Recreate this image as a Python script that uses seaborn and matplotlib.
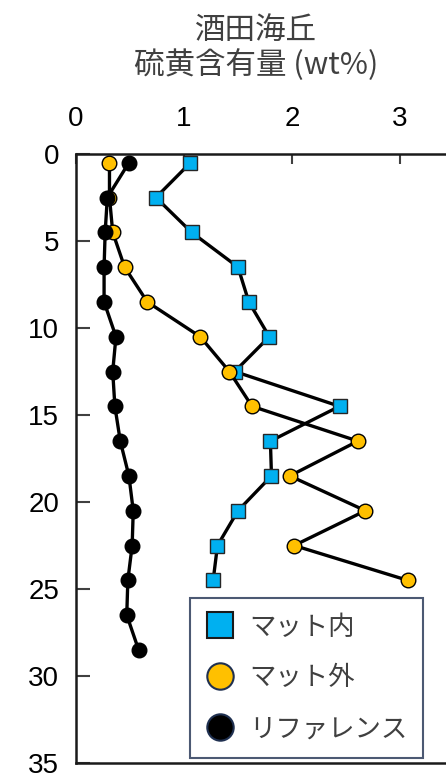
import numpy as np
import pandas as pd
import matplotlib
matplotlib.use("Agg")
import matplotlib.pyplot as plt
from matplotlib.lines import Line2D
import seaborn as sns

# --- data ---
depth = [0.5, 2.5, 4.5, 6.5, 8.5, 10.5, 12.5, 14.5, 16.5, 18.5, 20.5, 22.5, 24.5, 26.5, 28.5]
mat_in = [1.06, 0.74, 1.07, 1.50, 1.60, 1.79, 1.47, 2.44, 1.80, 1.81, 1.50, 1.31, 1.27]
mat_out = [0.31, 0.31, 0.34, 0.45, 0.66, 1.15, 1.42, 1.63, 2.61, 1.98, 2.68, 2.02, 3.07]
reference = [0.49, 0.29, 0.27, 0.26, 0.26, 0.37, 0.34, 0.36, 0.41, 0.49, 0.53, 0.52, 0.48, 0.47, 0.58]

labels = ["マット内", "マット外", "リファレンス"]
colors = ["#00b0f0", "#ffc000", "#000000"]
markers = ["s", "o", "o"]
edges = ["#262626", "#000000", "#000000"]

sns.set_style("white")
plt.rcParams["font.family"] = ["Liberation Sans", "Noto Sans CJK JP", "DejaVu Sans"]

fig = plt.figure(figsize=(4.46, 7.78), dpi=100)
ax = fig.add_axes([76 / 446, 1 - 763 / 778, 1 - 76 / 446, (763 - 154) / 778])

series = [mat_in, mat_out, reference]
for vals, lab, c, m, ec, z in zip(series, labels, colors, markers, edges, [2, 3, 4]):
    df = pd.DataFrame({"S": vals, "depth": depth[:len(vals)]})
    sns.lineplot(data=df, x="S", y="depth", sort=False, estimator=None, ax=ax,
                 color="black", lw=2.4, marker=m, ms=10.5, markerfacecolor=c,
                 markeredgecolor=ec, markeredgewidth=1.0, zorder=z, legend=False)

ax.set_xlim(0, 370 / 108)
ax.set_ylim(35, 0)
ax.set_xticks([0, 1, 2, 3])
ax.set_yticks(range(0, 36, 5))
ax.xaxis.tick_top()
ax.set_xlabel("")
ax.set_ylabel("")
ax.tick_params(axis="x", direction="in", length=7, width=1.5, color="#404040",
               labelsize=20, labelcolor="black", pad=16, top=True, bottom=False)
ax.tick_params(axis="y", direction="in", length=10, width=1.5, color="#404040",
               labelsize=20, labelcolor="black", pad=12, left=True)
ax.spines["right"].set_visible(False)
for s in ["left", "top", "bottom"]:
    ax.spines[s].set_color("#1a1a1a")
    ax.spines[s].set_linewidth(1.8)

handles = [Line2D([], [], ls="none", marker=m, ms=19, markerfacecolor=c,
                  markeredgecolor=("#1a1a1a" if i == 0 else "#1f3050"), markeredgewidth=1.5)
           for i, (m, c) in enumerate(zip(markers, colors))]
leg = ax.legend(handles, labels, loc="lower right", bbox_to_anchor=((423 - 76) / 370, 5 / 609),
                borderaxespad=0, frameon=True, fancybox=False, labelspacing=0.9,
                handletextpad=0.55, borderpad=0.6, handlelength=1.1,
                prop={"family": ["Noto Sans CJK JP"], "size": 19})
leg.get_frame().set_edgecolor("#1f3050")
leg.get_frame().set_linewidth(1.5)
for t in leg.get_texts():
    t.set_color("#404040")

fig.text(256 / 446, 1 - 48 / 778, "酒田海丘\n硫黄含有量 (wt%)", ha="center", va="center",
         fontsize=22, color="#404040", family=["Noto Sans CJK JP"], linespacing=1.1)

plt.savefig("out.png", dpi=100)
